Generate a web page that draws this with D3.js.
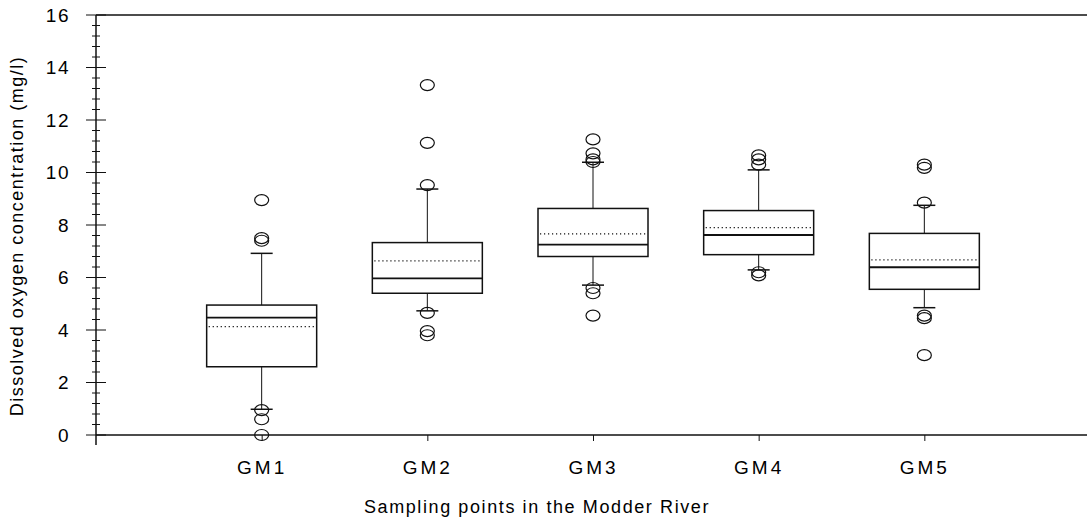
<!DOCTYPE html>
<html>
<head>
<meta charset="utf-8">
<script src="https://cdn.jsdelivr.net/npm/d3@7"></script>
<style>
  body { margin: 0; background: #fff; }
  text { font-family: "Liberation Sans", Arial, sans-serif; fill: #000; }
</style>
</head>
<body>
<script>
// données
const categories = ['GM1', 'GM2', 'GM3', 'GM4', 'GM5'];
const q1 = [2.6, 5.4, 6.8, 6.87, 5.55];
const mediane = [4.47, 5.97, 7.25, 7.62, 6.39];
const q3 = [4.95, 7.33, 8.63, 8.55, 7.68];
const moyenne = [4.13, 6.63, 7.66, 7.9, 6.67];
const moustacheBas = [0.98, 4.73, 5.71, 6.29, 4.85];
const moustacheHaut = [6.92, 9.37, 10.39, 10.1, 8.75];
const aberrants = [
  [8.95, 7.5, 7.4, 0.95, 0.6, 0],
  [13.33, 11.13, 9.52, 4.65, 3.96, 3.8],
  [11.26, 10.73, 10.5, 10.4, 5.6, 5.4, 4.55],
  [10.65, 10.5, 10.3, 6.2, 6.08],
  [10.3, 10.18, 8.85, 4.55, 4.45, 3.04]
];
const ticksY = [0, 2, 4, 6, 8, 10, 12, 14, 16];

const largeur = 1087, hauteur = 527;
const gauche = 96, haut = 15, bas = 435;

const canevas = d3.select('body')
  .append('svg')
  .attr('width', largeur)
  .attr('height', hauteur);

const x = d3.scalePoint()
  .domain(categories)
  .range([gauche, 1090])
  .padding(1);

const y = d3.scaleLinear()
  .domain([0, 16])
  .range([bas, haut]);

const demiBoite = 55, demiCap = 11;

// cadre haut
canevas.append('line')
  .attr('x1', gauche).attr('x2', largeur)
  .attr('y1', y(16)).attr('y2', y(16))
  .attr('stroke', '#111').attr('stroke-width', 1.5);

// axe des x
const axeX = canevas.append('g')
  .attr('transform', `translate(0,${bas})`)
  .call(d3.axisBottom(x).tickSize(6).tickPadding(20));
axeX.select('.domain').remove();
axeX.append('line')
  .attr('x1', gauche).attr('x2', largeur)
  .attr('stroke', '#111').attr('stroke-width', 1.5);
axeX.selectAll('.tick line').attr('stroke', '#111');
axeX.selectAll('.tick text')
  .attr('font-size', 19)
  .attr('letter-spacing', '3px')
  .attr('fill', '#000');

// axe des y : graduations mineures puis majeures
const axeY = canevas.append('g')
  .attr('transform', `translate(${gauche},0)`);
const mineures = d3.range(0, 16.01, 0.4).filter(v => Math.abs(v / 2 - Math.round(v / 2)) > 0.01);
axeY.selectAll('line.mineure')
  .data(mineures)
  .enter().append('line')
  .attr('class', 'mineure')
  .attr('x1', -4).attr('x2', 4)
  .attr('y1', d => y(d)).attr('y2', d => y(d))
  .attr('stroke', '#111');
axeY.selectAll('line.majeure')
  .data(ticksY)
  .enter().append('line')
  .attr('class', 'majeure')
  .attr('x1', -10).attr('x2', 10)
  .attr('y1', d => y(d)).attr('y2', d => y(d))
  .attr('stroke', '#111');
axeY.append('line')
  .attr('y1', y(16)).attr('y2', bas + 10)
  .attr('stroke', '#111').attr('stroke-width', 1.5);
axeY.selectAll('text')
  .data(ticksY)
  .enter().append('text')
  .attr('x', -26)
  .attr('y', d => y(d))
  .attr('dy', '0.36em')
  .attr('text-anchor', 'end')
  .attr('font-size', 19)
  .attr('letter-spacing', '1.5px')
  .text(d => d);

// titres
canevas.append('text')
  .attr('transform', 'translate(23,236) rotate(-90)')
  .attr('text-anchor', 'middle')
  .attr('font-size', 18)
  .attr('letter-spacing', '1.5px')
  .text('Dissolved oxygen concentration (mg/l)');
canevas.append('text')
  .attr('x', 537)
  .attr('y', 513)
  .attr('text-anchor', 'middle')
  .attr('font-size', 18)
  .attr('letter-spacing', '1.6px')
  .text('Sampling points in the Modder River');

// boîtes
const boites = canevas.selectAll('g.boite')
  .data(categories.map((c, i) => ({
    c, q1: q1[i], med: mediane[i], q3: q3[i], moy: moyenne[i],
    bas: moustacheBas[i], haut: moustacheHaut[i], out: aberrants[i]
  })))
  .enter().append('g')
  .attr('class', 'boite')
  .attr('transform', d => `translate(${x(d.c)},0)`);

// moustaches
boites.append('line')
  .attr('y1', d => y(d.haut)).attr('y2', d => y(d.q3))
  .attr('stroke', '#111');
boites.append('line')
  .attr('y1', d => y(d.q1)).attr('y2', d => y(d.bas))
  .attr('stroke', '#111');
boites.append('line')
  .attr('x1', -demiCap).attr('x2', demiCap)
  .attr('y1', d => y(d.haut)).attr('y2', d => y(d.haut))
  .attr('stroke', '#111').attr('stroke-width', 1.5);
boites.append('line')
  .attr('x1', -demiCap).attr('x2', demiCap)
  .attr('y1', d => y(d.bas)).attr('y2', d => y(d.bas))
  .attr('stroke', '#111').attr('stroke-width', 1.5);

boites.append('rect')
  .attr('x', -demiBoite)
  .attr('width', demiBoite * 2)
  .attr('y', d => y(d.q3))
  .attr('height', d => y(d.q1) - y(d.q3))
  .attr('fill', 'none')
  .attr('stroke', '#111')
  .attr('stroke-width', 1.5);
boites.append('line')
  .attr('x1', -demiBoite).attr('x2', demiBoite)
  .attr('y1', d => y(d.med)).attr('y2', d => y(d.med))
  .attr('stroke', '#111').attr('stroke-width', 1.8);
boites.append('line')
  .attr('x1', -demiBoite + 2).attr('x2', demiBoite - 2)
  .attr('y1', d => y(d.moy)).attr('y2', d => y(d.moy))
  .attr('stroke', '#111').attr('stroke-width', 1.2)
  .attr('stroke-dasharray', '1.2,2.8');

// valeurs aberrantes
boites.selectAll('ellipse')
  .data(d => d.out)
  .enter().append('ellipse')
  .attr('cx', 0)
  .attr('cy', d => y(d))
  .attr('rx', 7)
  .attr('ry', 5.5)
  .attr('fill', 'none')
  .attr('stroke', '#111')
  .attr('stroke-width', 1.2);
</script>
</body>
</html>
